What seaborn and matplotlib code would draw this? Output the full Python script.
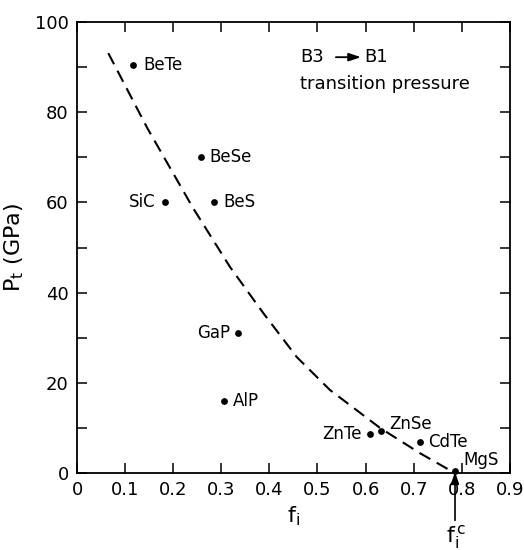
import matplotlib
matplotlib.use("Agg")
import matplotlib.pyplot as plt
import seaborn as sns
import pandas as pd

# compounds: ionicity f_i and transition pressure P_t (GPa)
compounds = ["BeTe", "BeSe", "SiC", "BeS", "GaP", "AlP", "ZnTe", "ZnSe", "CdTe", "MgS"]
fi_values = [0.117, 0.258, 0.183, 0.285, 0.335, 0.306, 0.609, 0.632, 0.713, 0.786]
pt_values = [90.5, 70.0, 60.0, 60.0, 31.0, 16.0, 8.6, 9.3, 6.9, 0.5]

# dashed trend curve
curve_fi = [0.065, 0.146, 0.241, 0.318, 0.387, 0.457, 0.526, 0.630, 0.713, 0.782]
curve_pt = [93.1, 76.5, 58.8, 45.7, 35.5, 25.7, 18.4, 10.0, 4.4, 0.2]

x_ticks = [0.0, 0.1, 0.2, 0.3, 0.4, 0.5, 0.6, 0.7, 0.8, 0.9]
x_tick_labels = ["0", "0.1", "0.2", "0.3", "0.4", "0.5", "0.6", "0.7", "0.8", "0.9"]
y_ticks = [0, 10, 20, 30, 40, 50, 60, 70, 80, 90, 100]
y_tick_labels = ["0", "", "20", "", "40", "", "60", "", "80", "", "100"]

# label offsets (points) and alignment
label_pos = {
    "BeTe": (7, 0, "left"),
    "BeSe": (6, 0, "left"),
    "SiC": (-7, 0, "right"),
    "BeS": (7, 0, "left"),
    "GaP": (-6, 0, "right"),
    "AlP": (6, 0, "left"),
    "ZnTe": (-6, 0, "right"),
    "ZnSe": (6, 5, "left"),
    "CdTe": (6, 0, "left"),
    "MgS": (6, 8, "left"),
}

sns.set_theme(style="ticks")
plt.rcParams["font.family"] = ["DejaVu Sans"]
plt.rcParams["mathtext.fontset"] = "dejavusans"
plt.rcParams["text.color"] = "black"
plt.rcParams["axes.labelcolor"] = "black"
plt.rcParams["xtick.color"] = "black"
plt.rcParams["ytick.color"] = "black"
plt.rcParams["xtick.labelcolor"] = "black"
plt.rcParams["ytick.labelcolor"] = "black"

fig = plt.figure(figsize=(5.24, 5.5), dpi=100)
ax = fig.add_axes([0.147, 0.14, 0.826, 0.82])

pts = pd.DataFrame({"fi": fi_values, "pt": pt_values, "name": compounds})
crv = pd.DataFrame({"fi": curve_fi, "pt": curve_pt})

sns.lineplot(data=crv, x="fi", y="pt", sort=False, ax=ax, color="black",
             linewidth=1.5, linestyle=(0, (6, 3.5)))
sns.scatterplot(data=pts, x="fi", y="pt", ax=ax, color="black", s=24,
                edgecolor="black", linewidth=0, clip_on=False, zorder=5)

for name, xv, yv in zip(compounds, fi_values, pt_values):
    dx, dy, ha = label_pos[name]
    ax.annotate(name, (xv, yv), xytext=(dx, dy), textcoords="offset points",
                ha=ha, va="center", fontsize=12, color="black")

ax.set_xlim(0, 0.9)
ax.set_ylim(0, 100)
ax.set_xticks(x_ticks, labels=x_tick_labels)
ax.set_yticks(y_ticks, labels=y_tick_labels)
ax.tick_params(direction="in", length=7, width=1.1, labelsize=13, pad=6,
               top=True, right=True, color="black", labelcolor="black")
for sp in ax.spines.values():
    sp.set_linewidth(1.3)
    sp.set_color("black")
    sp.set_visible(True)

ax.set_xlabel(r"f$_{\rm i}$", fontsize=16, labelpad=4, color="black")
ax.set_ylabel(r"P$_{\rm t}$ (GPa)", fontsize=16, labelpad=6, color="black")

# B3 -> B1 annotation
ax.text(0.515, 0.922, "B3", transform=ax.transAxes, fontsize=13,
        ha="left", va="center", color="black")
ax.annotate("", xy=(0.656, 0.922), xytext=(0.598, 0.922),
            xycoords="axes fraction", textcoords="axes fraction",
            arrowprops=dict(arrowstyle="-|>,head_length=0.6,head_width=0.2",
                            color="black", lw=1.3, shrinkA=0, shrinkB=0))
ax.text(0.663, 0.922, "B1", transform=ax.transAxes, fontsize=13,
        ha="left", va="center", color="black")
ax.text(0.515, 0.862, "transition pressure", transform=ax.transAxes,
        fontsize=13, ha="left", va="center", color="black")

# critical ionicity arrow
ax.annotate("", xy=(0.786, 0.3), xytext=(0.786, -10.5),
            xycoords="data", textcoords="data", annotation_clip=False,
            arrowprops=dict(arrowstyle="-|>,head_length=0.6,head_width=0.2",
                            color="black", lw=1.2, shrinkA=0, shrinkB=0))
ax.text(0.789, -11.0, r"f$_{\rm i}^{\,\rm c}$", fontsize=16, ha="center",
        va="top", clip_on=False, color="black")

fig.savefig("out.png", dpi=100)
